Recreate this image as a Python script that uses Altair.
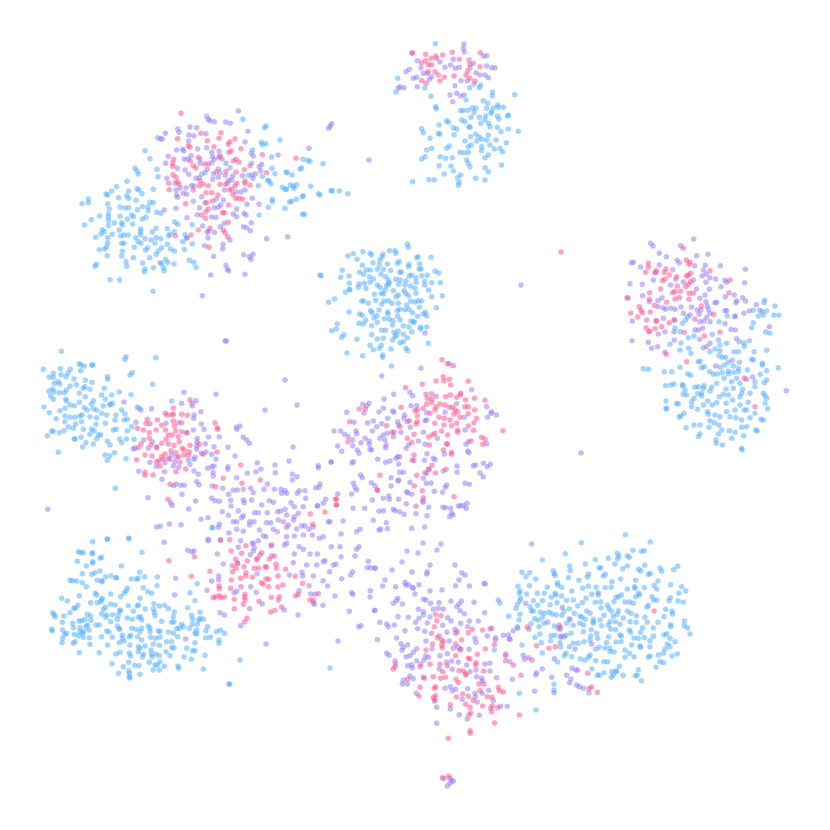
import altair as alt
import pandas as pd

top_blue = [(136,41),(23,145),(18,186),(104,174),(123,199),(239,173),(252,162),(268,173),(272,165),(307,187),(307,198),(374,194),(228,210),(280,212),(293,220),(137,230),(139,236),(212,242),(220,241),(234,241),(247,233),(258,235),(252,247),(290,235),(305,245),(310,233),(323,225),(325,232),(340,232),(352,258),(356,255),(322,258),(327,267),(303,250),(215,270),(225,275),(243,262),(268,262),(287,258),(170,272),(175,277),(147,285),(272,280),(285,270),(296,280),(190,293),(200,297),(237,290),(240,291),(300,290),(322,292),(355,297),(385,304),(95,296),(100,308),(145,310),(150,313),(192,314),(333,305),(120,325),(242,320),(257,312),(267,320),(275,328),(295,315),(290,330),(318,330),(225,333),(260,333),(349,338),(243,345),(235,350),(275,350),(275,362),(300,345),(313,357),(330,355),(338,365),(125,355),(110,360),(178,348),(170,355),(210,367),(222,368),(235,367),(105,380),(95,387),(150,380),(167,385),(187,383),(295,375),(285,383),(230,390),(235,400),(240,410),(147,407),(183,408),(190,423),(335,405),(285,413),(295,425),(163,432),(203,443),(212,435),(117,449),(133,449),(257,445),(285,450),(68,455),(207,457),(205,465)]
top_pink = [(68,68),(107,73),(187,67),(271,68),(123,85),(95,98),(107,92),(115,104),(125,105),(140,85),(158,75),(208,88),(237,90),(240,103),(270,110),(115,125),(135,125),(145,135),(163,142),(95,152),(108,160),(150,153),(192,138),(228,135),(240,145),(255,153),(233,123)]
top_purple = [(66,70),(222,42),(220,55),(223,66),(137,78),(280,78),(290,77),(82,92),(150,96),(190,88),(165,112),(182,105),(196,115),(208,112),(250,100),(240,113),(270,135),(290,108),(305,113),(315,113),(93,113),(58,118),(48,125),(100,130),(112,130),(125,140),(70,145),(80,142),(118,148),(213,152),(232,152),(258,128),(285,135),(295,143),(195,167),(30,170),(42,173),(25,175),(82,170),(180,195),(200,190),(212,198),(222,195),(188,215)]

upper_left_pink = [(333,40),(323,116),(412,122),(447,115),(453,98),(393,100),(495,116),(480,125),(475,133),(513,146),(484,153),(477,157),(355,137),(360,142),(432,140),(577,164),(450,168),(385,172),(361,183),(311,178),(308,190),(308,199),(370,197),(378,204),(404,192),(415,192),(490,183),(498,178),(507,186),(540,197),(523,209),(498,216),(590,218),(438,216),(468,214),(309,224),(318,232),(322,245),(296,250),(327,252),(298,269),(390,243),(400,252),(388,257),(415,257),(450,253),(467,253),(500,250),(495,258),(525,243),(525,250),(540,256),(485,267),(478,270),(370,270),(408,278),(425,278),(444,285),(488,283),(497,295),(507,295),(518,297),(427,303),(410,308),(347,311),(476,315),(415,327),(408,335),(395,345),(407,355),(458,338),(463,338),(385,390),(420,385),(475,367),(460,390),(465,398),(473,410),(363,405),(316,407),(417,442),(678,175)]
upper_left_purple = [(505,32),(415,58),(420,62),(433,65),(467,66),(481,70),(323,87),(327,97),(360,81),(380,83),(286,100),(271,116),(277,117),(357,105),(372,108),(408,101),(356,123),(534,94),(525,126),(776,85),(785,71),(781,78),(717,145),(320,150),(338,148),(341,153),(410,143),(363,167),(383,147),(447,153),(425,157),(427,170),(447,172),(433,178),(425,188),(456,177),(295,169),(343,178),(354,177),(544,160),(550,168),(624,165),(287,190),(390,178),(390,190),(468,190),(575,193),(568,200),(322,205),(345,210),(356,223),(405,218),(412,208),(445,207),(450,218),(466,226),(476,241),(488,228),(517,227),(546,225),(549,235),(556,222),(572,212),(290,235),(378,235),(388,233),(428,238),(445,232),(485,240),(472,250),(315,250),(365,257),(372,258),(330,263),(348,264),(318,270),(320,285),(323,292),(340,280),(350,283),(463,270),(498,276),(512,276),(525,270),(395,290),(370,304),(405,308),(439,297),(460,300),(452,315),(445,322),(547,295),(567,313),(531,313),(318,325),(283,330),(389,323),(433,323),(500,327),(490,342),(500,350),(522,340),(528,345),(351,353),(382,344),(425,351),(438,352),(398,378),(544,368),(463,370),(451,380),(520,380),(530,383),(415,393),(433,397),(412,397),(541,392),(350,415),(480,420),(414,413),(590,416),(653,410),(404,437),(459,433),(458,446),(431,469),(521,464),(549,463),(538,470),(543,478),(468,496),(472,508),(476,512),(422,525),(525,523),(397,587)]
upper_left_blue = [(410,49),(519,58),(584,83),(588,78),(263,113),(225,152),(240,176),(630,120),(574,127),(577,134),(588,131),(548,150),(605,171),(699,178),(713,181),(720,184),(759,191),(690,207),(695,204),(545,190),(195,205),(201,213),(205,222),(261,208),(264,230),(606,205),(615,221),(648,216),(652,218),(666,225),(480,203),(535,226),(577,229),(593,241),(597,243),(603,252),(565,257),(171,244),(140,260),(125,273),(108,282),(113,285),(201,266),(207,270),(250,268),(216,281),(176,273),(170,287),(146,293),(176,295),(198,301),(240,307),(250,308),(55,297),(55,308),(36,311),(113,311),(118,327),(150,321),(165,324),(176,323),(217,320),(234,320),(202,329),(235,332),(115,342),(89,347),(115,352),(150,349),(185,345),(190,350),(228,352),(217,357),(260,337),(273,340),(64,359),(116,362),(133,369),(155,368),(172,358),(157,375),(44,375),(115,377),(188,372),(212,387),(212,395),(148,390),(97,389),(103,395),(93,402),(127,403),(258,385),(292,386),(313,395),(247,396),(152,408),(175,405),(162,405),(212,404),(225,416),(77,412),(113,413),(197,413),(243,420),(258,413),(272,416),(296,407),(300,403),(345,404),(351,413),(113,428),(155,430),(162,430),(204,425),(213,430),(88,449),(104,447),(110,440),(227,450),(233,443),(193,442),(255,430),(275,443),(292,433),(302,447),(313,453),(338,425),(367,431),(343,448),(157,454),(155,468),(112,467),(190,473),(239,473),(258,463),(265,453),(287,478),(293,487),(270,489),(168,485),(79,493),(75,499),(218,489),(170,499),(225,507),(223,515),(250,503),(280,503),(283,513),(275,490),(312,492),(358,481),(371,487),(378,502),(120,539),(149,540),(249,574),(367,374),(323,373),(314,365),(395,222),(430,222),(607,298),(607,305),(595,322),(645,325),(659,306),(665,304),(679,298),(697,290),(700,287),(637,262),(645,268),(650,268),(661,255),(670,258),(672,265),(680,254),(722,259),(746,281),(750,285),(783,272),(787,272),(808,273),(833,281),(703,343),(698,343),(567,345)]

right_pink = [(190,55),(199,90),(210,97),(207,103),(85,100),(85,112),(77,127),(105,127),(110,122),(133,127),(138,117),(148,135),(127,152),(135,147),(170,140),(172,168),(205,135),(212,130),(200,138),(212,155),(205,163),(197,170),(122,177),(158,188),(165,184),(181,184),(89,188),(88,208),(208,190),(220,190),(178,203),(165,207),(207,208),(140,217),(103,226),(58,230),(63,241),(67,248),(32,249),(91,246),(53,261),(80,270),(110,272),(108,273),(148,278),(163,270),(125,290),(105,296),(78,293),(88,303),(87,305),(327,189),(330,150),(244,228),(281,253),(225,268),(193,307),(253,318),(300,307),(200,395),(139,373),(373,445),(405,530),(24,204),(270,122)]
right_purple = [(221,27),(92,40),(99,48),(182,47),(118,70),(139,80),(230,77),(264,73),(171,91),(178,98),(40,97),(34,98),(62,111),(118,105),(107,128),(224,107),(256,106),(158,119),(301,107),(376,118),(259,132),(250,120),(270,143),(246,138),(287,147),(100,150),(167,148),(190,156),(220,150),(258,157),(315,151),(320,157),(374,158),(30,161),(67,163),(152,165),(303,170),(230,177),(268,178),(68,197),(255,195),(316,200),(343,195),(368,203),(21,203),(126,203),(114,212),(88,215),(240,205),(258,215),(285,218),(290,217),(350,213),(348,218),(377,213),(409,224),(114,230),(130,233),(137,238),(152,234),(165,238),(183,231),(215,232),(232,240),(243,240),(262,228),(265,238),(315,242),(320,242),(372,250),(388,243),(420,241),(190,250),(210,255),(237,253),(260,262),(270,250),(345,258),(130,265),(37,273),(240,275),(252,273),(270,275),(163,270),(315,281),(225,300),(235,300),(248,295),(333,298),(346,300),(448,290),(115,312),(135,305),(162,305),(163,330),(239,328),(350,326),(36,332),(85,337),(113,350),(95,355),(135,367),(250,353),(260,350),(270,340),(337,391),(287,408),(398,441),(380,448),(499,482)]
right_blue = [(165,294),(187,280),(197,270),(203,260),(180,305),(205,323),(222,318),(150,343),(183,339),(180,360),(206,355),(213,370),(277,313),(295,330),(300,345),(320,340),(322,258),(345,260),(400,241),(415,258),(430,255),(434,211),(432,218),(427,245),(440,243),(465,228),(462,256),(477,256),(400,278),(395,293),(437,306),(450,310),(388,332),(372,338),(373,349),(358,335),(297,275),(285,357),(300,362),(270,365),(342,365),(355,365),(402,365),(440,361),(297,377),(307,382),(317,382),(395,388),(400,390),(235,395),(240,394),(325,397),(358,397),(382,420),(427,400),(427,405),(475,413),(70,416),(85,418),(180,412),(245,413),(253,410),(314,405),(300,412),(340,408),(355,415),(133,425),(155,425),(203,431),(212,436),(269,425),(280,433),(292,432),(307,428),(325,423),(340,427),(355,425),(325,432),(421,433),(440,422),(137,467),(153,465),(162,462),(187,464),(189,467),(225,472),(235,470),(252,467),(250,475),(290,460),(275,472),(312,445),(335,455),(350,445),(360,460),(405,455),(405,470),(433,458),(440,450),(195,480),(200,495),(190,493),(233,491),(245,490),(270,483),(318,477),(340,475),(365,490),(390,490),(430,490),(435,497),(138,513),(170,521),(175,521),(215,515),(222,505),(245,497),(263,513),(298,500),(310,493),(325,495),(360,500),(368,478),(440,505),(435,520),(138,535),(140,537),(192,550),(178,561),(183,558),(215,530),(233,538),(250,525),(277,525),(290,518),(318,520),(338,510),(360,525),(385,517),(443,536),(262,545),(265,553),(285,555),(300,560),(320,545),(345,540),(372,540),(380,540),(405,550),(270,572),(283,578),(297,585),(330,560),(348,563),(365,570),(390,563),(423,568),(430,570),(198,593),(222,585),(240,585),(267,592),(305,600),(328,602),(345,607),(365,592),(380,590),(407,600),(412,603),(240,612),(235,620),(295,612),(335,625),(371,617),(288,630),(289,640),(307,645),(365,655),(366,660)]

mid_left_blue = [(94,34),(40,88),(148,71),(153,75),(163,79),(152,92),(185,75),(189,75),(91,86),(121,88),(114,99),(70,100),(58,112),(70,112),(93,104),(108,110),(132,117),(84,125),(73,130),(89,132),(166,121),(186,127),(139,134),(120,139),(160,145),(165,140),(180,148),(110,150),(57,153),(68,147),(72,155),(88,158),(103,158),(148,160),(166,170),(62,168),(70,178),(107,178),(110,183),(215,165),(245,165),(268,156),(223,145),(226,178),(288,50),(285,58),(232,110),(233,118),(300,105),(307,98),(377,53),(368,133),(303,164),(190,182),(184,192),(148,187),(120,195),(133,197),(42,201),(105,205),(90,212),(58,218),(163,203),(172,210),(190,206),(200,210),(220,198),(215,220),(247,190),(240,193),(240,195),(230,225),(258,225),(275,210),(322,202),(328,205),(285,222),(78,236),(105,228),(120,232),(135,232),(150,228),(156,225),(180,230),(200,233),(283,240),(292,238),(105,245),(137,252),(155,245),(198,253),(226,250),(255,240),(115,261),(130,265),(160,268),(185,268),(192,272),(65,274),(70,274),(88,278),(102,272),(250,270),(258,268),(292,272),(305,260),(52,287),(180,283),(212,284),(205,285),(200,296),(135,296),(133,297),(153,292),(232,304),(240,315),(269,297),(275,308),(289,297),(312,298),(168,308),(190,312),(158,321),(85,337),(225,345),(240,348),(254,338),(232,361),(288,356),(256,445),(425,183),(391,559),(547,563),(232,597),(296,594)]
mid_left_pink = [(480,180),(430,204),(406,220),(412,225),(425,224),(430,222),(455,223),(472,226),(352,238),(382,240),(348,250),(360,251),(430,243),(455,248),(395,256),(433,258),(322,265),(378,270),(340,270),(358,278),(406,270),(437,272),(455,275),(472,278),(555,248),(562,263),(563,268),(358,295),(415,285),(427,285),(445,290),(333,312),(325,323),(363,315),(395,310),(408,298),(415,312),(432,316),(448,305),(480,316),(508,313),(380,323),(423,332),(438,338),(457,325),(462,330),(478,335),(405,342),(395,350),(345,345),(366,348),(400,357),(388,362),(420,358),(447,350),(462,345),(475,345),(380,365),(320,359),(450,367),(515,340),(561,336),(390,378),(467,387),(438,395),(345,397),(345,406),(369,405),(420,433),(632,375),(580,415),(636,430),(557,440),(414,478)]
mid_left_purple = [(589,3),(462,157),(558,163),(455,190),(486,190),(487,198),(498,182),(282,186),(333,210),(365,206),(513,215),(492,225),(491,235),(445,248),(318,247),(408,250),(469,278),(490,270),(514,252),(522,268),(621,268),(630,258),(619,262),(568,290),(536,291),(502,295),(501,306),(526,311),(640,292),(650,300),(658,310),(594,322),(355,325),(341,300),(367,305),(315,324),(310,327),(380,320),(500,328),(552,320),(528,336),(475,360),(495,352),(492,358),(520,343),(545,343),(552,378),(545,380),(533,385),(558,358),(500,318),(425,345),(440,352),(435,365),(415,355),(480,373),(360,367),(405,368),(430,378),(379,379),(326,394),(404,395),(492,393),(505,403),(549,397),(594,380),(593,388),(615,348),(446,382),(396,418),(550,408),(652,400),(620,413),(438,432),(431,437),(452,436),(463,436),(500,425),(507,434),(547,438),(578,445),(610,450),(622,450),(596,463),(640,448),(456,463),(354,473),(422,488),(426,496),(497,483),(545,475),(555,482),(568,484),(602,481),(640,480),(643,488),(603,498),(476,507),(53,508),(577,515),(625,512),(595,526),(640,527),(635,533),(513,538),(534,533),(610,545),(620,545),(418,552),(453,554),(380,561),(568,553),(565,562),(597,579),(620,568),(640,574),(659,555),(659,545)]

center_blue = [(3,107),(84,48),(100,41),(129,35),(150,40),(155,45),(189,43),(186,50),(209,32),(225,32),(228,40),(262,12),(265,22),(290,53),(294,50),(333,52),(111,58),(159,68),(180,60),(232,70),(238,65),(127,76),(178,74),(202,72),(267,73),(266,80),(299,71),(67,91),(139,90),(151,90),(172,88),(190,88),(212,91),(297,87),(303,87),(345,93),(356,99),(62,112),(87,108),(119,97),(131,103),(148,110),(183,103),(197,110),(240,97),(244,96),(268,108),(275,105),(305,107),(322,106),(88,130),(117,132),(133,130),(150,127),(160,117),(172,135),(205,120),(227,118),(240,120),(258,122),(288,113),(314,124),(335,128),(361,128),(115,142),(138,145),(180,142),(205,133),(208,128),(200,138),(236,133),(255,135),(272,138),(288,127),(314,135),(326,150),(88,148),(76,157),(90,150),(163,163),(195,150),(220,152),(252,152),(257,160),(288,160),(285,145),(183,160),(190,162),(235,165),(228,170),(266,167),(335,170),(367,167),(26,187),(44,177),(125,183),(131,183),(145,190),(167,181),(185,193),(192,183),(205,182),(216,190),(235,190),(272,183),(285,186),(295,182),(305,183),(260,195),(298,202),(349,203),(87,216),(152,212),(156,218),(177,210),(203,216),(232,212),(240,208),(255,209),(267,208),(278,218),(316,217),(320,228),(119,222),(127,226),(171,227),(162,233),(204,222),(233,228),(293,229),(310,222),(137,241),(193,236),(208,238),(219,242),(273,243),(280,245),(240,240),(52,251),(117,250),(130,252),(155,257),(172,247),(218,255),(250,258),(267,260),(283,247),(302,262),(320,261),(35,272),(49,267),(185,271),(197,271),(222,277),(235,273),(275,275),(302,267),(72,284),(65,292),(155,284),(230,285),(225,290),(250,283),(262,293),(172,297),(190,295),(111,298),(218,300),(240,308),(250,305),(150,316),(184,316),(178,325),(213,327),(258,325),(263,332),(325,310),(160,329),(81,339),(128,347),(188,345),(188,352)]
center_purple = [(315,279)]

arm_pink = [(336,14),(352,26),(370,32),(227,98),(277,88),(318,78),(340,65),(342,77),(358,73),(362,90),(415,79),(288,118),(292,130),(305,132),(318,124),(347,125),(361,120),(392,115),(380,127),(391,120),(434,130),(407,135),(465,136),(330,147),(305,142),(290,147),(88,162),(106,162),(213,157),(280,160),(262,165),(255,167),(262,183),(318,155),(315,165),(345,150),(358,157),(368,157),(375,165),(405,155),(415,155),(434,165),(383,170),(300,175),(327,187),(343,190),(372,178),(390,187),(415,176),(440,190),(360,195),(432,203),(238,197),(262,200),(258,207),(314,205),(342,210),(365,212),(380,205),(415,213),(59,200),(210,215),(170,212),(187,232),(383,225),(383,232),(431,226),(335,228),(315,235),(307,240),(296,246),(252,238),(353,240),(232,250),(519,227),(455,247),(465,253),(458,268),(423,258),(245,262),(54,260),(298,270),(350,267),(352,266),(340,285),(365,292),(364,298),(252,300),(247,316),(306,331),(298,343),(348,343),(260,361),(150,361),(285,353),(316,354),(253,393),(277,407),(142,406),(372,425),(280,428),(18,433),(19,450),(258,454)]
arm_purple = [(358,26),(155,63),(273,40),(425,104),(191,118),(240,112),(248,122),(305,116),(162,132),(98,148),(117,145),(243,152),(260,152),(110,152),(380,146),(50,172),(102,174),(147,171),(160,160),(188,168),(192,172),(224,180),(290,173),(345,172),(470,155),(485,170),(483,175),(499,180),(472,187),(403,187),(173,190),(130,198),(113,204),(72,202),(155,206),(203,200),(232,200),(285,197),(290,195),(222,190),(140,215),(205,210),(241,217),(12,228),(32,228),(127,228),(78,228),(44,238),(160,240),(172,235),(192,232),(213,232),(280,232),(55,245),(80,236),(105,250),(68,255),(93,263),(117,258),(150,250),(190,245),(165,255),(322,250),(265,258),(118,268),(168,270),(167,278),(23,273),(68,272),(236,270),(228,280),(285,268),(405,225),(408,268),(470,266),(415,260),(120,283),(125,285),(82,285),(87,295),(35,289),(291,296),(343,297),(413,288),(417,293),(198,310),(203,305),(209,305),(252,316),(310,310),(315,314),(143,313),(180,318),(167,322),(70,320),(66,324),(4,321),(206,327),(283,316),(381,333),(430,332),(437,330),(460,325),(481,328),(472,335),(340,348),(381,352),(209,352),(220,352),(295,343),(290,355),(450,354),(460,365),(92,360),(97,368),(183,368),(206,375),(280,370),(204,378),(70,385),(124,383),(135,392),(240,382),(289,385),(303,384),(405,385),(418,388),(350,390),(346,397),(75,397),(80,405),(183,393),(230,410),(233,413),(313,409),(338,412),(23,417),(65,417),(245,418),(176,423),(178,433),(127,435),(160,430),(206,433),(278,437),(280,442),(229,446),(339,457),(347,458),(362,460),(385,453),(392,452),(400,452),(409,460),(411,445),(296,457),(365,475),(369,480),(359,485),(69,460),(104,460),(190,463),(195,467),(209,470),(222,478),(147,468),(160,467),(258,476),(291,482),(39,498),(130,496),(169,503),(0,500),(147,525),(152,522),(172,521),(245,520),(284,516),(90,523),(80,530),(33,537)]
arm_blue = [(185,33)]

low_mid_purple = [(292,38),(345,45),(387,33),(475,47),(475,53),(513,36),(303,57),(288,65),(346,68),(397,73),(411,80),(397,90),(322,102),(343,118),(363,118),(375,122),(365,130),(380,130),(412,130),(418,122),(435,122),(467,113),(480,102),(477,112),(280,128),(312,118),(272,115),(437,145),(393,158),(497,148),(490,160),(472,167),(473,168),(430,170),(403,170),(328,152),(340,157),(305,165),(275,150),(375,178),(362,183),(353,185),(322,188),(284,188),(295,188),(380,195),(415,190),(403,200),(400,210),(282,215),(320,218),(332,218),(355,210),(370,215),(505,215),(385,225),(298,240),(310,257),(318,260),(340,238),(352,245),(410,237),(447,238),(425,228),(460,230),(435,227),(380,260),(403,258),(430,255),(457,255),(490,260),(478,265),(280,280),(295,272),(13,277),(145,268),(144,272),(182,270),(242,272),(235,292),(277,280),(283,293),(280,303),(300,315),(333,287),(83,301),(95,305),(102,303),(172,312),(271,314),(335,318),(373,285),(380,280),(417,290),(430,298),(450,312),(472,312),(495,332),(490,335),(514,290),(540,290),(590,298),(597,290),(543,320),(585,318),(625,334),(622,353),(632,353),(645,355),(403,312),(400,338),(440,345),(470,345),(520,345),(528,343),(232,340),(190,342),(47,385),(291,371),(388,375),(426,367),(428,378),(460,378),(509,365),(572,375),(578,365),(545,386),(176,378),(176,390),(155,393),(489,392),(447,407),(503,408),(272,410),(230,424),(222,428),(289,427),(417,422),(452,432),(465,433),(525,438),(575,428),(579,433),(631,422),(630,441),(44,435),(141,421),(460,458),(463,463),(489,466),(307,462),(269,476),(373,480),(568,484),(644,481),(180,488),(193,495),(414,495),(242,527),(596,530),(603,527)]
low_mid_pink = [(301,90),(335,285),(343,318),(451,192),(495,186),(458,223),(380,232),(528,148),(529,165),(652,120),(348,343),(350,355),(377,358),(328,327),(292,325),(305,308),(209,269),(258,287),(181,270),(213,303),(245,310),(262,333),(252,350),(227,328),(233,340),(217,347),(228,355),(296,355),(283,355),(316,350),(320,352),(290,330),(150,364),(94,379),(27,332),(103,320),(218,365),(258,368),(242,385),(214,390),(257,378),(277,382),(304,398),(310,403),(318,387),(326,387),(354,378),(406,379),(428,400),(212,415),(243,410),(177,408),(178,416),(326,410),(369,405),(354,411),(160,443),(167,440),(178,437),(183,443),(194,441),(223,448),(255,433),(254,442),(255,450),(250,463),(297,454),(334,442),(358,440),(355,450),(415,433),(407,437),(475,431),(450,450),(460,450),(223,476),(365,471),(345,481),(332,486),(261,505),(254,516)]
low_mid_blue = [(157,233)]

lower_left_blue = [(158,35),(202,28),(267,26),(115,65),(122,68),(130,68),(157,68),(157,72),(306,67),(180,85),(185,82),(112,94),(158,95),(158,99),(139,108),(244,108),(180,123),(165,128),(155,133),(127,131),(299,127),(197,140),(213,137),(227,143),(230,143),(90,151),(98,152),(110,153),(127,158),(172,151),(186,152),(186,155),(274,147),(290,148),(294,145),(314,140),(352,141),(351,167),(139,170),(262,175),(258,183),(252,190),(310,173),(323,185),(335,190),(472,161),(118,197),(166,190),(170,195),(212,192),(242,200),(65,205),(82,213),(187,205),(152,218),(172,218),(182,215),(185,210),(300,205),(450,188),(465,212),(212,222),(225,225),(114,226),(197,232),(265,227),(292,227),(295,225),(342,221),(358,228),(374,226),(385,236),(316,237),(102,235),(106,234),(190,238),(240,240),(280,244),(340,237),(343,247),(443,233),(38,248),(42,254),(46,260),(90,248),(72,258),(142,253),(152,258),(185,252),(200,255),(197,262),(218,254),(235,255),(240,243),(302,260),(295,262),(262,264),(277,268),(403,246),(400,260),(480,247),(455,256),(67,277),(117,273),(125,272),(135,268),(153,271),(142,285),(212,275),(232,268),(305,270),(345,257),(365,274),(395,277),(402,276),(425,283),(480,265),(490,268),(458,268),(477,270),(472,283),(168,285),(178,285),(98,280),(100,293),(232,288),(238,296),(275,295),(288,298),(305,295),(325,288),(330,295),(410,296),(418,295),(430,290),(448,295),(457,283),(503,290),(35,297),(37,303),(68,300),(120,293),(138,290),(147,300),(200,303),(207,306),(238,297),(300,305),(355,302),(360,305),(385,306),(470,301),(498,302),(529,305),(541,301),(553,310),(80,310),(74,313),(103,313),(120,305),(130,305),(127,310),(185,320),(217,322),(247,316),(272,316),(268,320),(293,320),(347,325),(332,322),(330,305),(360,322),(400,310),(413,320),(465,310),(470,312),(497,323),(511,322),(68,325),(66,338),(115,318),(130,322),(148,323),(247,325),(252,333),(238,338),(305,330),(100,340),(105,335),(150,343),(270,345),(203,345),(295,350),(315,348),(340,342),(358,346),(380,335),(395,335),(537,330),(537,340),(465,338),(440,355),(458,362),(465,362),(300,355),(333,360),(395,353),(402,353),(378,365),(118,368),(178,368),(240,367),(268,370),(272,378),(228,372),(310,373),(307,381),(335,372),(348,372),(358,377),(390,377),(495,376),(432,381),(336,380),(295,365),(454,388),(216,401),(266,397),(250,410),(284,406),(297,407),(328,397),(345,405),(352,405),(360,395),(373,409),(414,408),(416,415),(490,417),(340,420),(358,420),(236,430),(266,422),(268,430),(300,433),(268,440),(270,444),(569,463)]
lower_left_purple = [(437,327)]

bottom_pink = [(70,297),(75,290),(213,137),(197,133),(200,152),(193,170),(185,190),(202,203),(215,210),(220,215),(215,225),(217,233),(188,222),(168,240),(257,190),(275,210),(257,222),(270,240),(295,188),(307,178),(338,180),(365,175),(322,253),(346,237),(373,224),(150,290),(180,283),(210,283),(232,287),(257,257),(295,265),(300,267),(318,278),(317,285),(267,302),(280,303),(287,311),(288,315),(341,303),(190,320),(163,325),(212,325),(226,322),(258,328),(265,338),(150,352),(197,350),(193,355),(113,328),(407,252),(407,272),(218,305),(330,362),(327,342),(342,342),(385,352),(388,362),(400,366),(278,372),(295,379),(260,381),(147,378),(197,377),(190,383),(195,390),(352,380),(366,382),(310,391),(287,403),(300,412),(338,408),(367,408),(383,413),(362,415),(365,425),(448,435),(297,435),(302,428),(241,404),(374,459),(300,482),(301,490),(235,505),(236,618),(222,625)]
bottom_purple = [(172,5),(170,12),(275,8),(267,30),(257,47),(38,48),(77,50),(105,37),(107,45),(115,44),(127,52),(130,55),(147,44),(180,63),(216,60),(298,48),(342,40),(346,42),(135,72),(160,88),(168,90),(182,100),(207,98),(243,94),(274,93),(267,103),(260,110),(312,97),(385,90),(83,85),(80,92),(70,100),(97,102),(14,122),(145,118),(190,118),(205,115),(220,117),(160,125),(270,122),(283,131),(344,128),(84,140),(115,142),(180,141),(233,143),(243,153),(147,145),(137,157),(298,153),(325,153),(172,159),(272,160),(29,157),(50,162),(55,170),(73,165),(218,166),(293,170),(143,176),(105,182),(164,184),(255,178),(262,185),(231,187),(360,177),(415,195),(400,196),(22,209),(80,204),(208,197),(352,198),(377,203),(418,208),(376,210),(315,205),(318,217),(168,213),(238,213),(93,221),(113,224),(100,232),(96,241),(186,236),(140,236),(250,235),(265,232),(273,237),(297,238),(130,247),(50,250),(57,256),(232,251),(108,260),(120,257),(167,258),(175,262),(210,257),(407,258),(75,273),(77,282),(140,272),(162,270),(245,273),(230,277),(265,277),(345,282),(360,280),(113,287),(125,284),(127,293),(153,283),(208,297),(247,298),(290,285),(300,305),(318,300),(360,303),(120,318),(130,326),(160,322),(100,330),(97,342),(112,342),(320,320),(335,325),(337,332),(380,323),(225,355),(241,350),(247,362),(257,358),(293,356),(356,361),(139,370),(315,370),(316,380),(337,370),(193,393),(277,388),(322,397),(370,392),(200,412),(241,417),(392,409),(412,409),(268,434),(328,436),(292,447),(200,460),(217,623),(240,625),(245,632),(250,633),(240,640),(232,648)]
bottom_blue = [(416,139),(160,135),(373,240),(390,100),(498,420)]

lower_right_blue = [(346,14),(214,38),(421,36),(166,71),(97,90),(256,89),(295,85),(322,70),(327,78),(323,86),(352,77),(358,82),(369,61),(394,64),(403,62),(226,102),(315,102),(352,108),(404,106),(179,108),(181,122),(267,114),(272,113),(338,116),(386,118),(392,123),(450,114),(455,124),(491,119),(503,109),(36,127),(59,128),(130,122),(133,131),(135,136),(236,132),(232,141),(280,138),(286,133),(415,133),(421,131),(48,140),(175,143),(77,147),(207,151),(306,155),(332,147),(377,151),(444,153),(432,166),(482,164),(24,169),(58,167),(143,158),(143,165),(112,172),(155,172),(218,175),(235,169),(258,172),(286,173),(304,172),(352,177),(375,175),(374,170),(403,173),(440,177),(515,170),(30,183),(28,190),(50,192),(82,190),(103,190),(135,190),(138,195),(185,183),(245,193),(265,195),(334,195),(386,190),(388,195),(527,183),(507,190),(124,202),(32,205),(29,213),(70,212),(98,212),(155,198),(170,211),(190,210),(228,205),(318,202),(325,200),(377,200),(426,200),(431,210),(441,211),(481,203),(477,212),(504,213),(520,217),(22,223),(18,235),(60,230),(83,226),(120,224),(141,218),(203,228),(178,236),(217,218),(256,217),(272,215),(292,225),(312,215),(345,216),(359,216),(370,220),(411,232),(415,226),(64,243),(70,243),(91,247),(103,250),(117,247),(127,252),(162,244),(193,250),(230,243),(240,250),(273,233),(296,235),(304,243),(325,242),(352,244),(30,253),(98,262),(139,255),(156,256),(210,258),(216,262),(282,256),(310,259),(322,253),(363,250),(379,257),(405,262),(467,238),(486,244),(488,252),(27,270),(63,281),(74,266),(85,270),(170,280),(178,266),(210,280),(226,268),(250,268),(270,270),(250,280),(300,275),(316,275),(340,264),(360,275),(378,277),(412,277),(462,260),(523,273),(444,277),(22,290),(87,290),(102,280),(133,288),(151,292),(190,286),(221,285),(250,275),(275,287),(295,285),(330,283),(398,293),(430,294),(482,284),(482,290),(523,287),(533,294),(90,312),(75,322),(123,317),(135,316),(168,316),(220,305),(244,299),(260,310),(302,297),(317,299),(358,300),(362,307),(392,307),(470,312),(540,312),(122,332),(152,322),(183,310),(242,318),(263,325),(296,320),(330,315),(334,318),(372,324),(385,325),(403,323),(430,319),(462,315),(480,325),(94,338),(36,345),(150,338),(152,351),(178,350),(190,340),(205,340),(222,335),(240,330),(290,338),(318,336),(333,335),(365,345),(390,348),(420,332),(392,352),(495,335),(257,357),(268,352),(285,354),(300,355),(345,360),(420,350),(472,342),(480,350),(97,369),(168,370),(163,377),(185,380),(240,375),(236,382),(300,365),(312,366),(358,370),(465,357),(460,370),(445,375),(502,372),(486,378),(143,396),(211,387),(225,390),(257,392),(282,395),(293,395),(345,382),(372,380),(415,382),(420,378),(450,395),(460,398),(328,409),(438,412),(246,416),(385,419),(262,435),(268,436),(282,428),(305,425),(317,424),(320,424),(339,436),(304,442),(376,437),(382,436),(394,452),(132,463),(132,480),(28,490),(310,435)]
lower_right_purple = [(65,42),(264,188),(47,220),(157,232),(180,269),(113,277),(23,295),(10,302),(57,298),(150,298),(145,295),(153,318),(162,320),(195,357),(245,342),(0,327),(40,376),(44,388),(56,383),(133,386),(97,417),(80,428),(77,435),(125,442),(170,436),(186,415),(198,420),(203,420),(183,447),(179,458),(200,465),(208,470),(220,475),(7,448),(0,395),(74,484),(132,488),(237,488)]
lower_right_pink = [(432,243),(148,286),(52,291),(80,347),(117,355),(136,350),(66,390),(10,405),(33,436),(233,430),(245,471),(237,476),(262,487)]

stray_pink = [(561,252)]
stray_purple = [(521,285),(581,453),(369,160),(225,341),(285,380),(265,410),(297,405),(293,447),(338,641),(266,644),(441,544),(423,543),(437,550),(418,553),(407,551),(402,562),(385,580),(375,568),(392,570),(412,572),(455,565),(465,575),(430,565)]
stray_blue = [(320,275),(330,668),(240,660),(229,684)]

groups = [
    (390, 30, 3, "blue", top_blue), (390, 30, 3, "purple", top_purple), (390, 30, 3, "pink", top_pink),
    (70, 100, 3, "blue", upper_left_blue), (70, 100, 3, "purple", upper_left_purple), (70, 100, 3, "pink", upper_left_pink),
    (620, 230, 3, "blue", right_blue), (620, 230, 3, "purple", right_purple), (620, 230, 3, "pink", right_pink),
    (30, 340, 3, "blue", mid_left_blue), (30, 340, 3, "purple", mid_left_purple), (30, 340, 3, "pink", mid_left_pink),
    (320, 240, 3, "blue", center_blue), (320, 240, 3, "purple", center_purple),
    (330, 355, 3, "blue", arm_blue), (330, 355, 3, "purple", arm_purple), (330, 355, 3, "pink", arm_pink),
    (160, 450, 3, "blue", low_mid_blue), (160, 450, 3, "purple", low_mid_purple), (160, 450, 3, "pink", low_mid_pink),
    (40, 530, 3, "blue", lower_left_blue), (40, 530, 3, "purple", lower_left_purple),
    (370, 570, 3, "blue", bottom_blue), (370, 570, 3, "purple", bottom_purple), (370, 570, 3, "pink", bottom_pink),
    (510, 530, 3, "blue", lower_right_blue), (510, 530, 3, "purple", lower_right_purple), (510, 530, 3, "pink", lower_right_pink),
    (0, 0, 1, "blue", stray_blue), (0, 0, 1, "purple", stray_purple), (0, 0, 1, "pink", stray_pink),
]

rows = []
for ox, oy, mag, kind, pts in groups:
    for zx, zy in pts:
        rows.append({"x": ox + zx / mag, "y": oy + zy / mag, "kind": kind})
df = pd.DataFrame(rows)

chart = (
    alt.Chart(df)
    .mark_circle(size=30, opacity=0.52, stroke=None)
    .encode(
        x=alt.X("x:Q", axis=None, scale=alt.Scale(domain=[8, 822], nice=False, zero=False)),
        y=alt.Y("y:Q", axis=None, scale=alt.Scale(domain=[822, 8], nice=False, zero=False)),
        color=alt.Color(
            "kind:N",
            legend=None,
            scale=alt.Scale(domain=["blue", "purple", "pink"], range=["#50acff", "#937af7", "#ff508a"]),
        ),
    )
    .properties(width=814, height=814, padding=0, autosize=alt.AutoSizeParams(type="none"))
    .configure_view(stroke=None)
)

chart.save("out.html", embed_options={"renderer": "svg", "actions": False})
